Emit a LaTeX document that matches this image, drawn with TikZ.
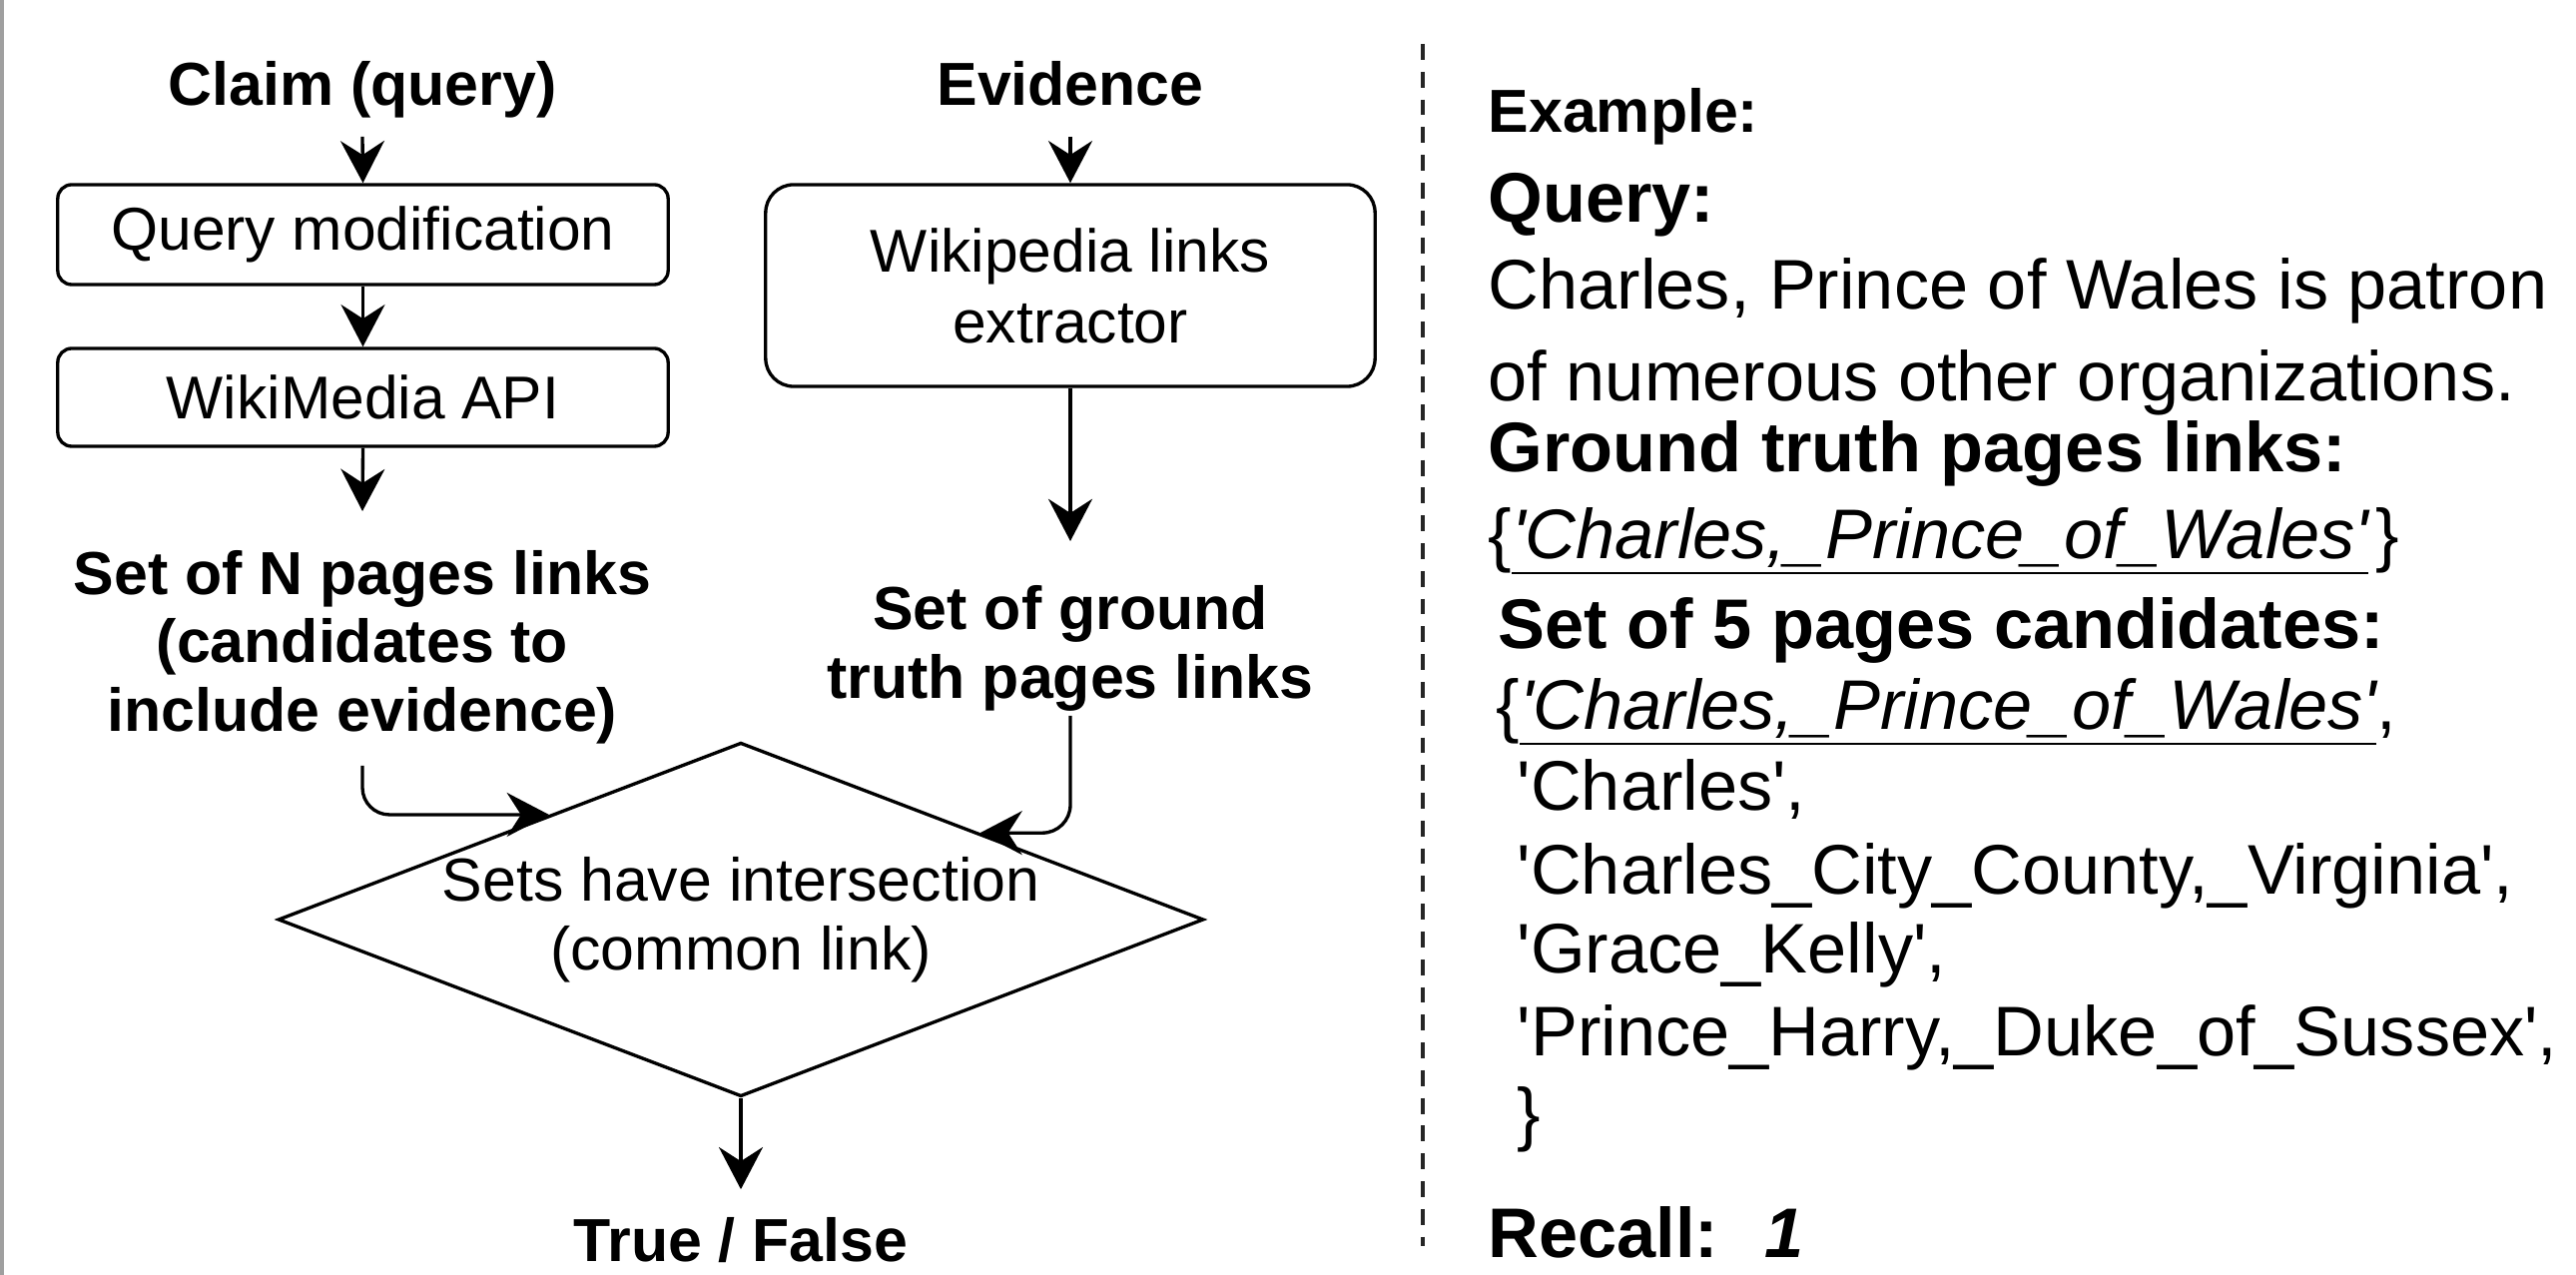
\documentclass[tikz,border=0pt]{standalone}
\usepackage{fontspec}
\setmainfont{Liberation Sans}
\usetikzlibrary{arrows.meta,shapes.geometric,calc}
\newcommand{\qs}{\textquotesingle}
\begin{document}
\begin{tikzpicture}[x=0.01cm,y=-0.01cm]
\tikzset{
  ln/.style={line width=0.95pt, draw=black},
  arr/.style={ln, -{Stealth[length=12pt,width=12.5pt,inset=4pt]}},
  stepbox/.style={draw, line width=0.95pt, rounded corners=4pt, minimum width=6.11cm, inner sep=0, align=center, font=\fontsize{17.2}{20.2}\selectfont},
  lbl/.style={inner sep=0, anchor=base, font=\fontsize{17.3}{20}\selectfont\bfseries},
  rt/.style={inner sep=0, anchor=base west, font=\fontsize{20}{24}\selectfont},
  rb/.style={inner sep=0, anchor=base west, font=\fontsize{20}{24}\selectfont\bfseries},
  dashline/.style={line width=1.05pt, black!85, dash pattern=on 4.5pt off 3.4pt},
}
\fill[white] (0,0) rectangle (2580,1277);
\useasboundingbox (0,0) rectangle (2580,1277);
\draw[gray!75, line width=0.03cm] (2,0) -- (2,1277);

% left column
\node[lbl] (claim) at (363,106) {Claim (query)};
\node[stepbox, minimum height=1cm] (qm) at (363.5,235) {Query modification};
\node[stepbox, minimum height=0.98cm] (wm) at (363.5,398) {WikiMedia API};
\node[lbl] (setNa) at (363,596) {Set of N pages links};
\node[lbl] (setNb) at (363,664) {(candidates to};
\node[lbl] (setNc) at (363,733) {include evidence)};

% middle column
\node[lbl] (evid) at (1072,106) {Evidence};
\node[stepbox, minimum width=6.10cm, minimum height=2.02cm, rounded corners=8pt] (wle) at (1072,286) {Wikipedia links\\extractor};
\node[lbl] (gta) at (1072,631) {Set of ground};
\node[lbl] (gtb) at (1072,700) {truth pages links};

% decision
\node[draw, diamond, line width=0.95pt, aspect=2.615, minimum width=9.1cm, minimum height=3.48cm, inner sep=0, align=center, font=\fontsize{17.3}{19.6}\selectfont] (dia) at (742,921) {Sets have intersection\\(common link)};
\node[lbl] (tf) at (742,1264) {True / False};

% connectors
\draw[arr] ($(claim.base)+(0,31)$) -- (qm.north);
\draw[arr] (qm.south) -- (wm.north);
\draw[arr] (wm.south) -- ($(setNa.base)+(0,-84)$);
\draw[arr] ($(evid.base)+(0,31)$) -- (wle.north);
\draw[arr] (wle.south) -- ($(gta.base)+(0,-89)$);
\draw[arr, rounded corners=0.27cm] ($(setNc.base)+(0,34)$) |- ($(dia.west)!0.587!(dia.north)$);
\draw[arr, rounded corners=0.28cm] ($(gtb.base)+(0,17)$) |- ($(dia.north)!0.515!(dia.east)$);
\draw[arr] (dia.south) -- ($(tf.north)+(0,-28)$);

% divider
\draw[dashline] (1425,44) -- (1425,1248);

% example column
\node[inner sep=0, anchor=base west, font=\fontsize{17.3}{20}\selectfont\bfseries] (ex) at (1490,133) {Example:};
\node[rb] (qh) at (1490,223) {Query:};
\node[rt] (q1) at (1490,310) {Charles, Prince of Wales is patron};
\node[rt] (q2) at (1490,402) {of numerous other organizations.};
\node[rb] (gth) at (1490,473) {Ground truth pages links:};
\node[rt] (gtl) at (1490,560) {\{\textit{\underline{\qs Charles,\_Prince\_of\_Wales\qs}}\kern2pt\}};
\node[rb] (ch) at (1500,650) {Set of 5 pages candidates:};
\node[rt] (c1) at (1498,731) {\{\textit{\underline{\qs Charles,\_Prince\_of\_Wales\qs}},};
\node[rt] (c2) at (1519,812) {\qs Charles\qs,};
\node[rt] (c3) at (1519,896) {\qs Charles\_City\_County,\_Virginia\qs,};
\node[rt] (c4) at (1519,975) {\qs Grace\_Kelly\qs,};
\node[rt] (c5) at (1519,1058) {\qs Prince\_Harry,\_Duke\_of\_Sussex\qs,};
\node[rt] (c6) at (1519,1140) {\}};
\node[rb] (rec) at (1490,1260) {Recall:\hspace{13pt}\textit{1}};
\end{tikzpicture}
\end{document}
